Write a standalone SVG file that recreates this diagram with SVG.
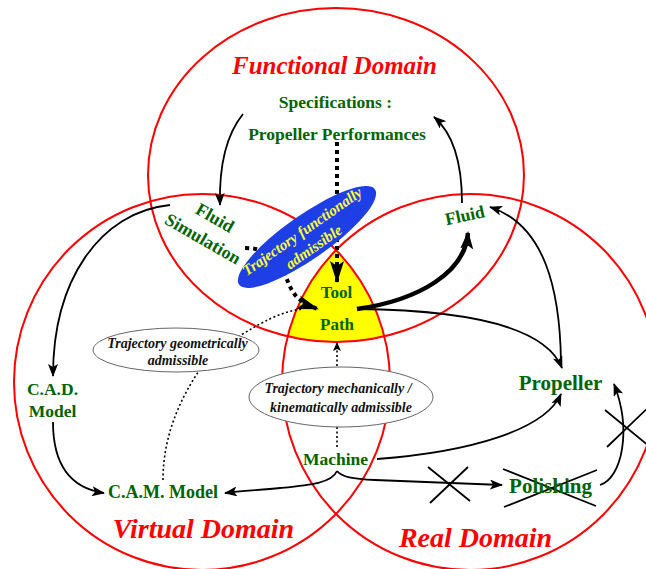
<svg xmlns="http://www.w3.org/2000/svg" width="646" height="569" viewBox="0 0 646 569">
<defs>
<style>
.dom{fill:none;stroke:#ff0000;stroke-width:2}
.dt{font-family:"Liberation Serif",serif;font-weight:bold;font-style:italic;fill:#ff0000;text-anchor:middle}
.lb{font-family:"Liberation Serif",serif;font-weight:bold;fill:#006400;text-anchor:middle}
.it{font-family:"Liberation Serif",serif;font-weight:bold;font-style:italic;fill:#111;text-anchor:middle;font-size:14px}
.ln{fill:none;stroke:#000;stroke-width:1.8}
.thick{fill:none;stroke:#000;stroke-width:4.5}
.dot{fill:none;stroke:#000;stroke-width:4;stroke-dasharray:4 4}
.tdot{fill:none;stroke:#000;stroke-width:1.6;stroke-dasharray:2 2.5}
.ov{fill:#fff;stroke:#666;stroke-width:1}
</style>
<marker id="a" markerUnits="userSpaceOnUse" markerWidth="13" markerHeight="10" refX="12" refY="5" orient="auto"><path d="M0,0 L13,5 L0,10 L3,5 z" fill="#000"/></marker>
<marker id="as" markerUnits="userSpaceOnUse" markerWidth="9" markerHeight="8" refX="8" refY="4" orient="auto"><path d="M0,0 L9,4 L0,8 L2,4 z" fill="#000"/></marker>
<marker id="ab" markerUnits="userSpaceOnUse" markerWidth="22" markerHeight="14" refX="21" refY="7" orient="auto"><path d="M0,0 L22,7 L0,14 L5,7 z" fill="#000"/></marker>
<marker id="at" markerUnits="userSpaceOnUse" markerWidth="18" markerHeight="13" refX="16" refY="6.5" orient="auto"><path d="M0,0 L18,6.5 L0,13 L4,6.5 z" fill="#000"/></marker>
</defs>
<rect width="646" height="569" fill="#fff"/>
<g id="domains">
<path id="core" d="M336,250 A188,188 0 0 1 384,336 A188,167 0 0 1 288,336 A188,188 0 0 1 336,250 Z" fill="#ffff00"/>
<ellipse id="functional" class="dom" cx="336" cy="175" rx="188" ry="167"/>
<circle id="virtual" class="dom" cx="202" cy="382" r="188"/>
<circle id="real" class="dom" cx="470" cy="382" r="188"/>
</g>
<g id="connectors">
<path class="ln" d="M243,114 C226,135 219,165 220,205" marker-end="url(#a)"/>
<path class="ln" d="M462,203 C462,165 455,135 434,117" marker-end="url(#a)"/>
<path class="ln" d="M170,205 C100,212 53,280 53,376" marker-end="url(#a)"/>
<path class="ln" d="M53,422 C53,465 70,488 104,493" marker-end="url(#a)"/>
<path class="ln" d="M337,471 C332,483 310,485 280,488 C260,490 240,491 225,493" marker-end="url(#a)"/>
<path class="ln" d="M337,471 C342,477 352,479 375,480 L502,485" marker-end="url(#a)"/>
<path class="ln" d="M377,459 C470,452 545,430 561,394" marker-end="url(#a)"/>
<path class="ln" d="M357,309 C460,310 545,325 562,368" marker-end="url(#a)"/>
<path class="ln" d="M561,362 C560,290 545,225 490,207" marker-end="url(#a)"/>
<path class="ln" d="M600,485 C622,478 632,430 614,384" marker-end="url(#a)"/>
<path class="thick" d="M357,309 C420,300 465,272 468,233" marker-end="url(#at)"/>
<path class="dot" d="M337,142 L337,282" marker-end="url(#ab)"/>
<path class="dot" d="M245,248 C275,248 282,268 288,282 C293,295 300,303 318,309" marker-end="url(#ab)"/>
<path class="tdot" d="M163,480 C163,430 185,390 205,362"/>
<path class="tdot" d="M238,337 C262,322 280,312 302,309"/>
<path class="tdot" d="M337,447 L337,343" marker-end="url(#as)"/>
<path class="ln" d="M428,467 L470,501 M430,503 L468,467"/>
<path class="ln" d="M503,469 L596,506 M504,507 L597,470"/>
<path class="ln" d="M605,410 L655,451 M607,447 L655,401"/>
</g>
<g id="trajFunc">
<ellipse cx="307" cy="237" rx="83" ry="22" fill="#1f3fe6" transform="rotate(-35 307 237)"/>
<text class="it" style="fill:#ffff33;font-size:15px" transform="translate(305 235.5) rotate(-35)">Trajectory functionally</text>
<text class="it" style="fill:#ffff33;font-size:15px" transform="translate(316.5 251) rotate(-35)">admissible</text>
</g>
<g id="trajGeo">
<ellipse class="ov" cx="176" cy="350" rx="83" ry="22"/>
<text class="it" x="177.5" y="348">Trajectory geometrically</text>
<text class="it" x="178" y="365">admissible</text>
</g>
<g id="trajMech">
<ellipse class="ov" cx="341" cy="397" rx="92" ry="30"/>
<text class="it" x="338" y="393">Trajectory mechanically /</text>
<text class="it" x="341" y="412">kinematically admissible</text>
</g>
<g id="titles">
<text class="dt" x="334.5" y="74" font-size="25">Functional Domain</text>
<text class="dt" x="203.5" y="538" font-size="28">Virtual Domain</text>
<text class="dt" x="475.5" y="547" font-size="28">Real Domain</text>
</g>
<g id="specs"><text class="lb" x="335.5" y="108" font-size="17.5">Specifications :</text>
<text class="lb" x="337" y="140" font-size="17.5">Propeller Performances</text></g>
<g id="fluidSim"><text class="lb" font-size="18" transform="translate(212 223) rotate(30)">Fluid</text>
<text class="lb" font-size="18" transform="translate(200 244) rotate(30)">Simulation</text></g>
<g id="fluid"><text class="lb" font-size="17.5" transform="translate(466 221) rotate(-12)">Fluid</text></g>
<g id="toolPath"><text class="lb" x="336.5" y="298" font-size="17">Tool</text>
<text class="lb" x="337" y="330" font-size="17">Path</text></g>
<g id="cad"><text class="lb" x="52.5" y="395" font-size="17.5">C.A.D.</text>
<text class="lb" x="52.5" y="417" font-size="17.5">Model</text></g>
<g id="cam"><text class="lb" x="163" y="498" font-size="18">C.A.M. Model</text></g>
<g id="propeller"><text class="lb" x="560.5" y="390" font-size="21">Propeller</text></g>
<g id="polishing"><text class="lb" x="550.5" y="493" font-size="21">Polishing</text></g>
<g id="machine"><text class="lb" x="335.5" y="465" font-size="17.5">Machine</text></g>
</svg>
